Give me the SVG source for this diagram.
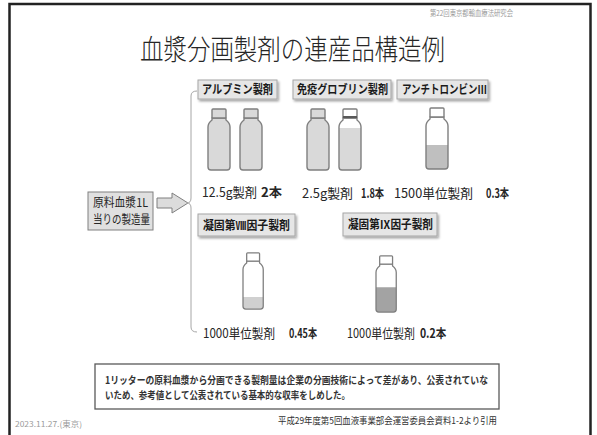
<svg xmlns="http://www.w3.org/2000/svg" width="597" height="435" viewBox="0 0 597 435">
  <style>
    text { font-family: "Noto Sans CJK JP", "Noto Sans", sans-serif; fill: #262626; }
    .title { font-size: 28px; font-weight: 300; }
    .small { font-size: 8px; fill: #9a9a9a; }
    .lbl { font-size: 12px; font-weight: bold; fill: #1a1a1a; }
    .amt { font-size: 13px; }
    .amtb { font-size: 12.5px; font-weight: bold; }
    .note { font-size: 10px; font-weight: bold; fill: #333; }
    .cite { font-size: 9.5px; fill: #333; }
    .src { font-size: 12px; fill: #262626; }
    .tag { fill: #e6e6e6; stroke: #a6a6a6; stroke-width: 1; filter: url(#shadow); }
    .outline { fill: none; stroke: #7f7f7f; stroke-width: 1.4; }
    .bracket { fill: none; stroke: #a6a6a6; stroke-width: 1; }
  </style>
  <defs>
    <filter id="shadow" x="-10%" y="-20%" width="125%" height="160%">
      <feDropShadow dx="1.5" dy="2" stdDeviation="1" flood-color="#000" flood-opacity="0.35"/>
    </filter>
    <!-- bottle body outline, 22 x 62, origin at top of cap -->
    <path id="body" d="M4,10 L4,12 Q0,15 0,19 L0,59 Q0,62 3,62 L19,62 Q22,62 22,59 L22,19 Q22,15 18,12 L18,10 Z"/>
    <rect id="cap" x="4" y="1" width="14" height="9" rx="1"/>
  </defs>

  <!-- slide frame -->
  <rect x="9.5" y="4" width="581" height="440" fill="#fff" stroke="#222" stroke-width="2.5"/>

  <text class="small" x="513" y="16" text-anchor="end" textLength="83" lengthAdjust="spacingAndGlyphs">第22回東京都輸血療法研究会</text>
  <text class="title" x="140" y="60" textLength="305" lengthAdjust="spacingAndGlyphs">血漿分画製剤の連産品構造例</text>

  <!-- source -->
  <g id="source">
    <rect x="88" y="192" width="65" height="38" fill="#e0e0e0" stroke="#808080" stroke-width="1"/>
    <text class="src" x="93" y="207" textLength="55" lengthAdjust="spacingAndGlyphs">原料血漿1L</text>
    <text class="src" x="93" y="224" textLength="57" lengthAdjust="spacingAndGlyphs">当りの製造量</text>
  </g>

  <!-- connectors -->
  <g id="connectors">
    <polygon points="157,198 172,198 172,193 188,203 172,213 172,208 157,208" fill="#dcdcdc" stroke="#7f7f7f" stroke-width="1"/>
    <path class="bracket" d="M197,91 Q191,91 191,96 L191,198 Q191,203 187,203 Q191,203 191,208 L191,327 Q191,332 197,332"/>
  </g>

  <!-- albumin -->
  <g id="albumin">
    <rect class="tag" x="198" y="80" width="79" height="19"/>
    <text class="lbl" x="202" y="94" textLength="71" lengthAdjust="spacingAndGlyphs">アルブミン製剤</text>
    <g transform="translate(208,108)">
      <use href="#body" fill="#d9d9d9"/><use href="#body" class="outline"/>
      <use href="#cap" fill="#d9d9d9"/><use href="#cap" class="outline"/>
    </g>
    <g transform="translate(240,108)">
      <use href="#body" fill="#d9d9d9"/><use href="#body" class="outline"/>
      <use href="#cap" fill="#d9d9d9"/><use href="#cap" class="outline"/>
    </g>
    <text class="amt" x="202" y="197" textLength="55" lengthAdjust="spacingAndGlyphs">12.5g製剤</text>
    <text class="amtb" x="261" y="197" textLength="21" lengthAdjust="spacingAndGlyphs">2本</text>
  </g>

  <!-- immunoglobulin -->
  <g id="globulin">
    <rect class="tag" x="293" y="80" width="98" height="19"/>
    <text class="lbl" x="297" y="94" textLength="91" lengthAdjust="spacingAndGlyphs">免疫グロブリン製剤</text>
    <g transform="translate(307,108)">
      <use href="#body" fill="#d9d9d9"/><use href="#body" class="outline"/>
      <use href="#cap" fill="#d9d9d9"/><use href="#cap" class="outline"/>
    </g>
    <g transform="translate(339,108)">
      <use href="#body" fill="#fff"/>
      <path d="M0,20 L22,20 L22,59 Q22,62 19,62 L3,62 Q0,62 0,59 Z" fill="#d9d9d9"/>
      <use href="#body" class="outline"/>
      <use href="#cap" fill="#fff"/><use href="#cap" class="outline"/>
      <line x1="4" y1="9" x2="18" y2="9" stroke="#595959" stroke-width="2"/>
    </g>
    <text class="amt" x="302" y="198" textLength="51" lengthAdjust="spacingAndGlyphs">2.5g製剤</text>
    <text class="amtb" x="361" y="198" textLength="23" lengthAdjust="spacingAndGlyphs">1.8本</text>
  </g>

  <!-- antithrombin III -->
  <g id="antithrombin">
    <rect class="tag" x="397" y="80" width="91" height="19"/>
    <text class="lbl" x="402" y="94" textLength="85" lengthAdjust="spacingAndGlyphs">アンチトロンビンⅢ</text>
    <g transform="translate(426,107)">
      <use href="#body" fill="#fff"/>
      <path d="M0,38 L22,38 L22,59 Q22,62 19,62 L3,62 Q0,62 0,59 Z" fill="#bfbfbf"/>
      <use href="#body" class="outline"/>
      <use href="#cap" fill="#fff"/><use href="#cap" class="outline"/>
    </g>
    <text class="amt" x="394" y="198" textLength="79" lengthAdjust="spacingAndGlyphs">1500単位製剤</text>
    <text class="amtb" x="486" y="198" textLength="23" lengthAdjust="spacingAndGlyphs">0.3本</text>
  </g>

  <!-- factor VIII -->
  <g id="factor8">
    <rect class="tag" x="198" y="214" width="97" height="22"/>
    <text class="lbl" x="203" y="230" textLength="87" lengthAdjust="spacingAndGlyphs">凝固第Ⅷ因子製剤</text>
    <g transform="translate(243,252) scale(0.92)">
      <use href="#body" fill="#fff"/>
      <path d="M0,49 L22,49 L22,59 Q22,62 19,62 L3,62 Q0,62 0,59 Z" fill="#d0d0d0"/>
      <use href="#body" class="outline"/>
      <use href="#cap" fill="#fff"/><use href="#cap" class="outline"/>
    </g>
    <text class="amt" x="203" y="338" textLength="72" lengthAdjust="spacingAndGlyphs">1000単位製剤</text>
    <text class="amtb" x="289" y="338" textLength="28" lengthAdjust="spacingAndGlyphs">0.45本</text>
  </g>

  <!-- factor IX -->
  <g id="factor9">
    <rect class="tag" x="343" y="213" width="94" height="23"/>
    <text class="lbl" x="348" y="229" textLength="85" lengthAdjust="spacingAndGlyphs">凝固第Ⅸ因子製剤</text>
    <g transform="translate(376,255) scale(0.92)">
      <use href="#body" fill="#fff"/>
      <path d="M0,35 L22,35 L22,59 Q22,62 19,62 L3,62 Q0,62 0,59 Z" fill="#a3a3a3"/>
      <use href="#body" class="outline"/>
      <use href="#cap" fill="#fff"/><use href="#cap" class="outline"/>
    </g>
    <!-- amount line set as one horizontally condensed run -->
    <text class="amt" transform="translate(347,338) scale(0.84,1)">1000単位製剤<tspan class="amtb" dx="6">0.2本</tspan></text>
  </g>

  <!-- note -->
  <g id="note">
    <rect x="95" y="364" width="404" height="45" fill="#fff" stroke="#595959" stroke-width="1.3"/>
    <text class="note" x="105" y="384" textLength="383" lengthAdjust="spacingAndGlyphs">1リッターの原料血漿から分画できる製剤量は企業の分画技術によって差があり、公表されていな</text>
    <text class="note" x="105" y="399" textLength="245" lengthAdjust="spacingAndGlyphs">いため、参考値として公表されている基本的な収率をしめした。</text>
  </g>

  <text class="cite" x="278" y="424" textLength="219" lengthAdjust="spacingAndGlyphs">平成29年度第5回血液事業部会運営委員会資料1-2より引用</text>
  <text class="small" x="15" y="427" textLength="67" lengthAdjust="spacingAndGlyphs">2023.11.27.(東京)</text>
</svg>
